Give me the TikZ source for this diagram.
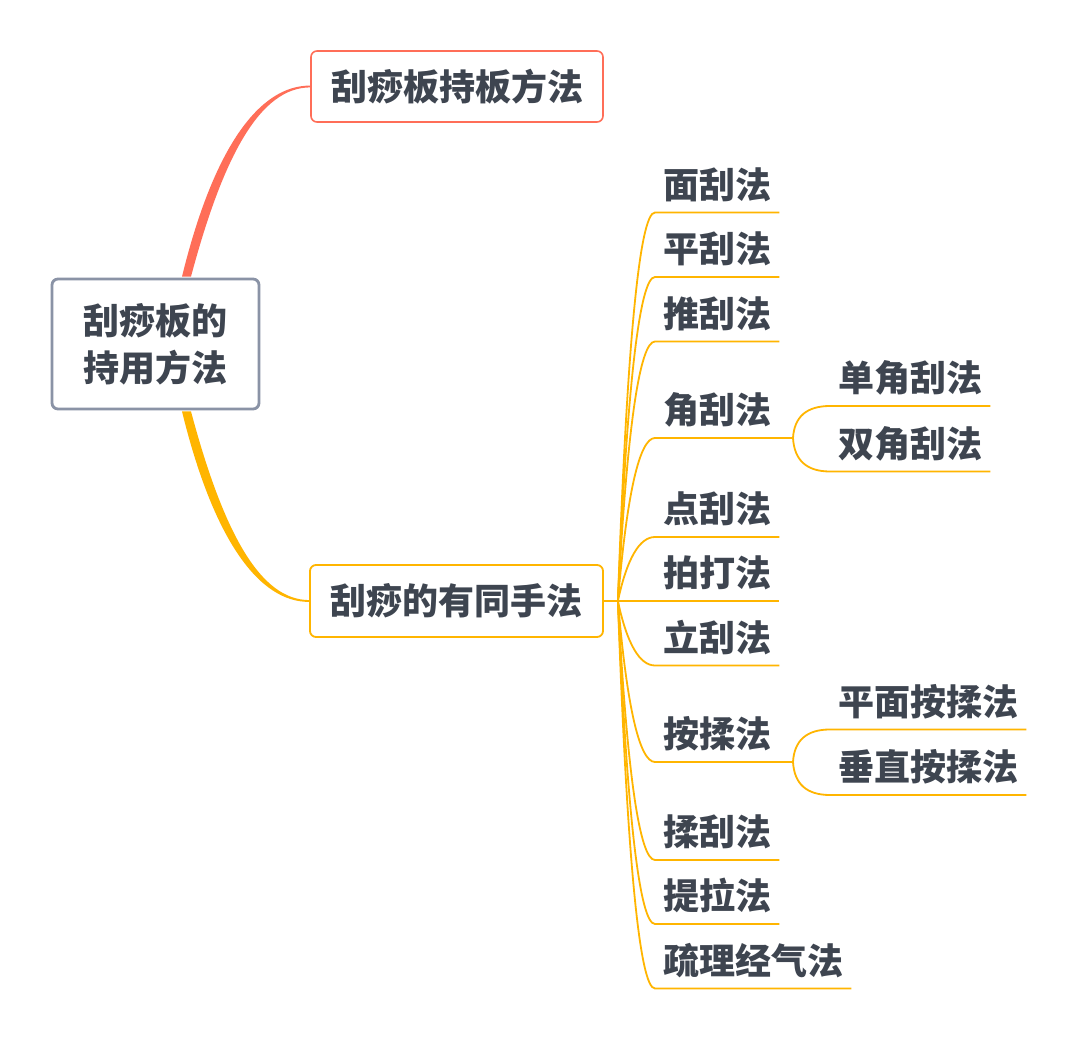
\documentclass[tikz,border=0pt]{standalone}
\usepackage{fontspec}
\newfontfamily\cjk{Noto Sans CJK SC}[UprightFont=* Black]
\usetikzlibrary{calc}

\definecolor{inkgray}{RGB}{62,69,80}
\definecolor{rootgray}{RGB}{138,147,166}
\definecolor{chibanred}{RGB}{255,110,88}
\definecolor{shoufagold}{RGB}{255,181,0}

\begin{document}
\begin{tikzpicture}[x=1pt,y=-1pt,
    label/.style={text=inkgray,font=\cjk\fontsize{36}{47}\selectfont},
    topicbox/.style={label,rounded corners=6pt,fill=white,inner sep=0pt},
    leaf/.style={label,anchor=south west,inner xsep=8pt,inner ysep=0pt,text depth=14pt},
    leafline/.style={draw=shoufagold,line width=1.8pt}]
  \path[fill=white,use as bounding box] (0,0) rectangle (1080,1040);

  \node[topicbox,draw=rootgray,line width=2.8pt,align=center,minimum width=207pt,minimum height=130pt] (root) at (155.5,344) {刮痧板的\\持用方法};
  \node[topicbox,draw=chibanred,line width=1.6pt,minimum width=292pt,minimum height=71pt] (chiban) at (457,86.5) {刮痧板持板方法};
  \node[topicbox,draw=shoufagold,line width=1.8pt,minimum width=293pt,minimum height=72pt] (shoufa) at (456.5,601) {刮痧的有同手法};

  % tapered main branches
  \fill[chibanred] ($(root.north)+(26.5,-1)$) .. controls (213.5,148) and (259,85.4) .. ($(chiban.west)+(0,-0.9)$)
    -- ($(chiban.west)+(0,0.9)$) .. controls (261,87.6) and (224,153) .. ($(root.north)+(35.5,-1)$) -- cycle;
  \fill[shoufagold] ($(root.south)+(26.5,1)$) .. controls (213.5,540) and (259,602.1) .. ($(shoufa.west)+(0,0.9)$)
    -- ($(shoufa.west)+(0,-0.9)$) .. controls (261,599.9) and (224,535) .. ($(root.south)+(35.5,1)$) -- cycle;

  \node[leaf] (mian) at (655,212.5) {面刮法};
  \node[leaf] (ping) at (655,277) {平刮法};
  \node[leaf] (tui) at (655,341.5) {推刮法};
  \node[leaf] (jiao) at (655,438) {角刮法};
  \node[leaf] (dan) at (830,406) {单角刮法};
  \node[leaf] (shuang) at (830,471.5) {双角刮法};
  \node[leaf] (dian) at (655,537) {点刮法};
  \node[leaf] (pai) at (655,601) {拍打法};
  \node[leaf] (li) at (655,665.5) {立刮法};
  \node[leaf] (an) at (655,762) {按揉法};
  \node[leaf] (pingmian) at (830,729.5) {平面按揉法};
  \node[leaf] (chuizhi) at (830,795) {垂直按揉法};
  \node[leaf] (rou) at (655,860) {揉刮法};
  \node[leaf] (tila) at (655,924) {提拉法};
  \node[leaf] (shuli) at (655,988.5) {疏理经气法};

  \coordinate (hub) at ($(shoufa.east)+(14,0)$);
  \coordinate (jiaofork) at (793,438);
  \coordinate (anfork) at (793,762);

  \draw[leafline] (shoufa.east) -- (hub) -- (pai.south west) -- (pai.south east);
  \draw[leafline] (hub) .. controls (627,342) and (639.7,212.5) .. (mian.south west) -- (mian.south east);
  \draw[leafline] (hub) .. controls (627,385) and (639.7,277) .. (ping.south west) -- (ping.south east);
  \draw[leafline] (hub) .. controls (627,428) and (639.7,341.5) .. (tui.south west) -- (tui.south east);
  \draw[leafline] (hub) .. controls (627,492.3) and (639.7,438) .. (jiao.south west) -- (jiaofork);
  \draw[leafline] (hub) .. controls (627,558.3) and (639.7,537) .. (dian.south west) -- (dian.south east);
  \draw[leafline] (hub) .. controls (627,644) and (639.7,665.5) .. (li.south west) -- (li.south east);
  \draw[leafline] (hub) .. controls (627,708.3) and (639.7,762) .. (an.south west) -- (anfork);
  \draw[leafline] (hub) .. controls (627,773.7) and (639.7,860) .. (rou.south west) -- (rou.south east);
  \draw[leafline] (hub) .. controls (627,816.3) and (639.7,924) .. (tila.south west) -- (tila.south east);
  \draw[leafline] (hub) .. controls (627,859.3) and (639.7,988.5) .. (shuli.south west) -- (shuli.south east);

  \draw[leafline] (jiaofork) .. controls (794.3,416.7) and (806.7,406) .. (dan.south west) -- (dan.south east);
  \draw[leafline] (jiaofork) .. controls (794.3,460.3) and (806.7,471.5) .. (shuang.south west) -- (shuang.south east);
  \draw[leafline] (anfork) .. controls (794.3,740.3) and (806.7,729.5) .. (pingmian.south west) -- (pingmian.south east);
  \draw[leafline] (anfork) .. controls (794.3,784) and (806.7,795) .. (chuizhi.south west) -- (chuizhi.south east);
\end{tikzpicture}
\end{document}
